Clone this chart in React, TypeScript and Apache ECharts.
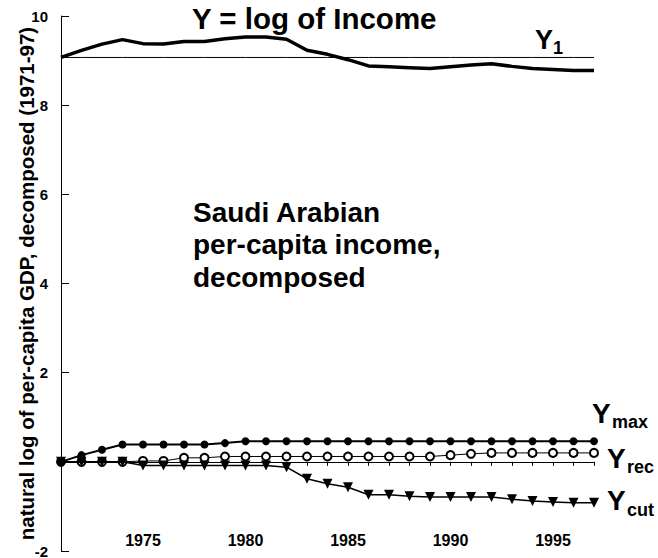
import React, { useEffect, useRef } from "react";
import * as echarts from "echarts";

const years = [1971,1972,1973,1974,1975,1976,1977,1978,1979,1980,1981,1982,1983,1984,1985,1986,1987,1988,1989,1990,1991,1992,1993,1994,1995,1996,1997];
const incomeY = [9.07,9.23,9.37,9.47,9.38,9.37,9.43,9.43,9.49,9.53,9.53,9.48,9.23,9.14,9.02,8.88,8.86,8.84,8.82,8.86,8.90,8.93,8.87,8.82,8.80,8.78,8.78];
const y1Value = 9.07;
const yMax = [0,0.15,0.27,0.39,0.39,0.39,0.39,0.39,0.42,0.46,0.46,0.46,0.46,0.46,0.46,0.46,0.46,0.46,0.46,0.46,0.46,0.46,0.46,0.46,0.46,0.46,0.46];
const yRec = [0,0,0,0,0.02,0.02,0.09,0.09,0.12,0.12,0.12,0.12,0.12,0.12,0.12,0.12,0.12,0.12,0.12,0.15,0.18,0.2,0.2,0.2,0.2,0.2,0.2];
const yCut = [0,0,0,0,-0.08,-0.08,-0.08,-0.08,-0.08,-0.08,-0.08,-0.12,-0.38,-0.49,-0.57,-0.74,-0.74,-0.77,-0.79,-0.79,-0.79,-0.79,-0.84,-0.88,-0.9,-0.92,-0.92];
const yTicks = { min: -2, max: 10, interval: 2 };
const xLabelEvery = 5;

const FONT = '"Liberation Sans", Arial, Helvetica, sans-serif';

function pairs(vals: number[]) {
  return years.map((yr, i) => [yr, vals[i]]);
}

export default function App() {
  const ref = useRef<HTMLDivElement>(null);
  useEffect(() => {
    if (!ref.current) return;
    const chart = echarts.init(ref.current, undefined, { renderer: "svg" });
    const big = { fontFamily: FONT, fontWeight: "bold", fill: "#000" };
    const txt = (text: string, x: number, y: number, size: number) => ({
      type: "text",
      x,
      y,
      z: 100,
      style: { ...big, text, fontSize: size, align: "left", verticalAlign: "middle" },
    });
    const axisLineStyle = { color: "#000", width: 1, type: "solid", opacity: 1 };
    chart.setOption({
      animation: false,
      backgroundColor: "#fff",
      grid: {
        left: 61,
        right: 64,
        top: 16,
        bottom: 7,
        containLabel: false,
        outerBoundsMode: "none",
      },
      xAxis: [
        {
          type: "value",
          min: years[0],
          max: years[years.length - 1],
          interval: 1,
          position: "bottom",
          z: 10,
          axisLine: { show: true, onZero: true, lineStyle: axisLineStyle },
          axisTick: { show: true, length: 4, lineStyle: axisLineStyle },
          splitLine: { show: false },
          axisLabel: { show: false },
        },
        {
          type: "value",
          min: years[0],
          max: years[years.length - 1],
          interval: 1,
          position: "bottom",
          axisLine: { show: false, onZero: false },
          axisTick: { show: false },
          splitLine: { show: false },
          axisLabel: {
            inside: true,
            margin: 3,
            fontFamily: FONT,
            fontWeight: "bold",
            fontSize: 16,
            color: "#000",
            formatter: (v: number) => (v % xLabelEvery === 0 ? String(v) : ""),
          },
        },
      ],
      yAxis: [
        {
          type: "value",
          min: yTicks.min,
          max: yTicks.max,
          interval: yTicks.interval,
          position: "left",
          z: 10,
          axisLine: { show: true, onZero: false, lineStyle: axisLineStyle },
          axisTick: { show: true, inside: true, length: 8, lineStyle: axisLineStyle },
          splitLine: { show: false },
          axisLabel: {
            margin: 13,
            fontFamily: FONT,
            fontWeight: "bold",
            fontSize: 15,
            color: "#000",
            formatter: (v: number) => (v === 0 ? "" : String(v)),
          },
          name: "natural log of per-capita GDP, decomposed (1971-97)",
          nameLocation: "middle",
          nameGap: 24,
          nameMoveOverlap: false,
          nameTextStyle: { fontFamily: FONT, fontWeight: "bold", fontSize: 20.5, color: "#000" },
        },
        {
          type: "value",
          min: yTicks.min,
          max: yTicks.max,
          interval: yTicks.interval,
          position: "left",
          offset: -8,
          z: 10,
          axisLine: { show: false, onZero: false },
          axisTick: { show: true, inside: false, length: 8, lineStyle: axisLineStyle },
          splitLine: { show: false },
          axisLabel: { show: false },
        },
      ],
      series: [
        {
          type: "line",
          data: years.map((yr) => [yr, y1Value]),
          symbol: "none",
          lineStyle: { color: "#000", width: 1 },
          z: 2,
        },
        {
          type: "line",
          data: pairs(incomeY),
          symbol: "none",
          lineStyle: { color: "#000", width: 3.5 },
          z: 3,
        },
        {
          type: "line",
          data: pairs(yRec),
          symbol: "emptyCircle",
          symbolSize: 8,
          itemStyle: { color: "#000", borderColor: "#000", borderWidth: 1 },
          lineStyle: { color: "#000", width: 1 },
          z: 3,
        },
        {
          type: "line",
          data: pairs(yCut),
          symbol: "triangle",
          symbolRotate: 180,
          symbolSize: 10,
          itemStyle: { color: "#000" },
          lineStyle: { color: "#000", width: 1.5 },
          z: 4,
        },
        {
          type: "line",
          data: pairs(yMax),
          symbol: "circle",
          symbolSize: 8,
          itemStyle: { color: "#000" },
          lineStyle: { color: "#000", width: 2 },
          z: 5,
        },
      ],
      graphic: [
        txt("Y = log of Income", 192, 18.5, 29.5),
        {
          type: "text",
          x: 193,
          y: 196,
          z: 100,
          style: {
            ...big,
            text: "Saudi Arabian\nper-capita income,\ndecomposed",
            fontSize: 28,
            lineHeight: 32.5,
            align: "left",
            verticalAlign: "top",
          },
        },
        txt("Y", 535, 40.2, 27),
        txt("1", 553, 47.7, 18),
        txt("Y", 592, 413.2, 28),
        txt("max", 612, 421.7, 18),
        txt("Y", 607, 458.2, 28),
        txt("rec", 627, 466.7, 18),
        txt("Y", 607, 500.2, 28),
        txt("cut", 627, 509.7, 18),
      ],
    });
    return () => chart.dispose();
  }, []);
  return (
    <div
      ref={ref}
      style={{ position: "fixed", left: 0, top: 0, width: 658, height: 558, background: "#fff" }}
    />
  );
}
